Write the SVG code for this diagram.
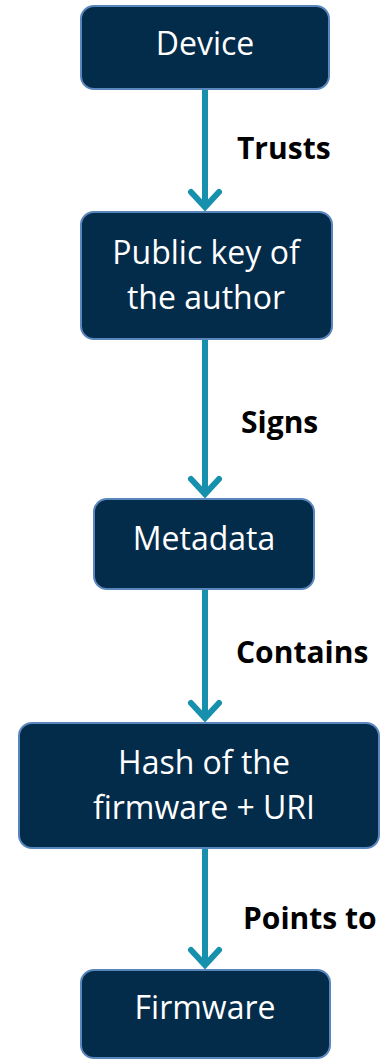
<svg xmlns="http://www.w3.org/2000/svg" width="381" height="1059" viewBox="0 0 381 1059">
<style>
.box{fill:#032B4A;stroke:#5A86BE;stroke-width:2}
.t{font-family:"Open Sans","Noto Sans",sans-serif;font-size:32px;fill:#ffffff;text-anchor:middle}
.lbl{font-family:"Open Sans","Noto Sans",sans-serif;font-size:30px;font-weight:bold;fill:#000000}
.ln{stroke:#1790AE;stroke-width:6;fill:none}
.hd{stroke:#1790AE;stroke-width:6;fill:none;stroke-linecap:round;stroke-linejoin:miter}
</style>
<rect width="381" height="1059" fill="#ffffff"/>
<g id="connectors">
  <line class="ln" x1="205" y1="89" x2="205" y2="207"/>
  <polyline class="hd" points="191,192 205,207 219,192"/>
  <text class="lbl" x="237" y="159">Trusts</text>
  <line class="ln" x1="205" y1="339" x2="205" y2="494"/>
  <polyline class="hd" points="191,479 205,494 219,479"/>
  <text class="lbl" x="241" y="433">Signs</text>
  <line class="ln" x1="205" y1="589" x2="205" y2="718"/>
  <polyline class="hd" points="191,703 205,718 219,703"/>
  <text class="lbl" x="236" y="663">Contains</text>
  <line class="ln" x1="205" y1="848" x2="205" y2="965"/>
  <polyline class="hd" points="191,950 205,965 219,950"/>
  <text class="lbl" x="243" y="929">Points to</text>
</g>
<g id="device">
  <rect class="box" x="81" y="6" width="248" height="83" rx="13"/>
  <text class="t" x="205" y="55">Device</text>
</g>
<g id="pubkey">
  <rect class="box" x="81" y="212" width="251" height="127" rx="13"/>
  <text class="t" x="206" y="264">Public key of</text>
  <text class="t" x="206" y="309">the author</text>
</g>
<g id="metadata">
  <rect class="box" x="94" y="499" width="220" height="90" rx="13"/>
  <text class="t" x="204" y="550">Metadata</text>
</g>
<g id="hash">
  <rect class="box" x="19" y="723" width="360" height="125" rx="13"/>
  <text class="t" x="204" y="774">Hash of the</text>
  <text class="t" x="204" y="819">firmware + URI</text>
</g>
<g id="firmware">
  <rect class="box" x="81" y="970" width="249" height="88" rx="13"/>
  <text class="t" x="205" y="1019">Firmware</text>
</g>
</svg>
